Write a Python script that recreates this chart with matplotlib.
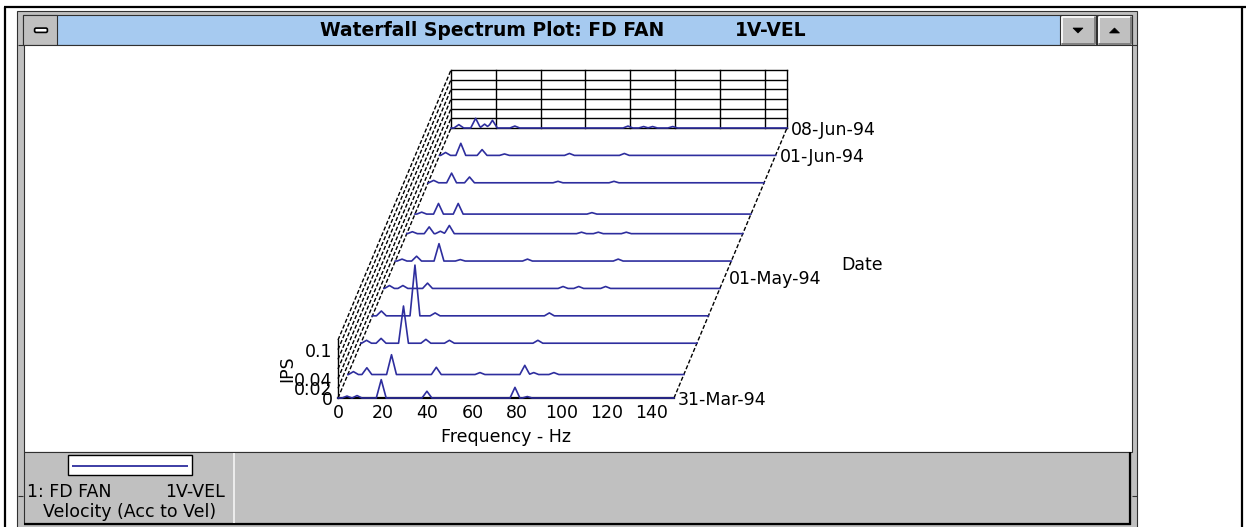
import matplotlib
matplotlib.use("Agg")
import numpy as np
import matplotlib.pyplot as plt
from matplotlib.patches import Rectangle, Polygon, FancyBboxPatch

# =====================================================
# Data
# =====================================================

DATES = ["31-Mar-94", "06-Apr-94", "14-Apr-94", "21-Apr-94", "28-Apr-94",
         "05-May-94", "12-May-94", "17-May-94", "25-May-94", "01-Jun-94",
         "08-Jun-94"]
DAYS = [0, 6, 14, 21, 28, 35, 42, 47, 55, 62, 69]

# peak frequencies (Hz) and amplitudes (IPS) of each spectrum, front to back
PEAK_FREQS = [
    [4, 8.5, 19.3, 39.7, 79, 84.5],
    [2.5, 8.5, 19.5, 39.5, 59, 79, 83, 92],
    [2.5, 9, 19, 29, 39.5, 79],
    [4, 19, 28, 79],
    [2.5, 8.5, 19.5, 80, 87, 99],
    [3, 9.5, 19.5, 29, 59, 99.5],
    [2.5, 10, 15, 19, 78, 85.5, 98],
    [3, 10.5, 19.3, 79],
    [2.5, 10.5, 18.5, 58, 83],
    [2.7, 9.5, 19, 29, 58, 82.5],
    [3.5, 11, 15, 18.5, 28.5, 79, 86, 90, 99],
]
PEAK_AMPS = [
    [0.004, 0.005, 0.038, 0.014, 0.022, 0.003],
    [0.006, 0.014, 0.041, 0.015, 0.004, 0.019, 0.004, 0.004],
    [0.006, 0.010, 0.077, 0.008, 0.006, 0.006],
    [0.010, 0.105, 0.006, 0.006],
    [0.006, 0.006, 0.011, 0.004, 0.004, 0.004],
    [0.004, 0.010, 0.036, 0.003, 0.004, 0.004],
    [0.004, 0.014, 0.005, 0.017, 0.003, 0.003, 0.003],
    [0.004, 0.022, 0.022, 0.003],
    [0.005, 0.020, 0.012, 0.003, 0.003],
    [0.006, 0.025, 0.012, 0.003, 0.004, 0.004],
    [0.007, 0.020, 0.008, 0.016, 0.004, 0.004, 0.003, 0.003, 0.003],
]

DATE_TICK_LABELS = ["31-Mar-94", "01-May-94", "01-Jun-94", "08-Jun-94"]
DATE_TICK_DAYS = [0, 31, 62, 69]

FREQ_TICKS = [0, 20, 40, 60, 80, 100, 120, 140]
IPS_TICKS = [0, 0.02, 0.04, 0.1]
IPS_TICK_LABELS = ["0", "0.02", "0.04", "0.1"]
IPS_GRID = [0, 0.02, 0.04, 0.06, 0.08, 0.10, 0.12]

F_MAX = 150
IPS_MAX = 0.12
DAY_SPAN = 69

# =====================================================
# Style / geometry (pixels)
# =====================================================

W, H, DPI = 1246, 527, 100
TRACE_BLUE = "#2E2E9E"
TITLE_BLUE = "#A6CAF0"
GRAY = "#C0C0C0"
DARK = "#303030"
PEAK_HALF_WIDTH = 2.2

FRONT_X0, FRONT_Y0 = 338, 398     # freq 0 / IPS 0 on the front plane
FRONT_W, FRONT_H = 336, 58        # 0..150 Hz, 0..0.12 IPS
DEPTH_DX, DEPTH_DY = 113, 270     # shift from first to last date

plt.rcParams["font.family"] = ["DejaVu Sans"]
plt.rcParams["font.size"] = 12.5

fig = plt.figure(figsize=(W / DPI, H / DPI), dpi=DPI)
fig.patch.set_facecolor("white")

# chrome axes in pixel coordinates, y going down
cax = fig.add_axes([0, 0, 1, 1])
cax.set_xlim(0, W)
cax.set_ylim(H, 0)
cax.axis("off")


def rect(x0, y0, x1, y1, fc, ec=DARK, lw=1.0, z=1):
    cax.add_patch(Rectangle((x0, y0), x1 - x0, y1 - y0, facecolor=fc,
                            edgecolor=ec, linewidth=lw, zorder=z))


def hline(x0, x1, y, color, lw=1.0, z=3):
    cax.plot([x0, x1], [y, y], color=color, lw=lw, zorder=z,
             solid_capstyle="butt")


def vline(x, y0, y1, color, lw=1.0, z=3):
    cax.plot([x, x], [y0, y1], color=color, lw=lw, zorder=z,
             solid_capstyle="butt")


# =====================================================
# Window chrome
# =====================================================

# page border
hline(4, W, 7, "black", lw=1.6)
vline(5, 7, H, "black", lw=1.6)
vline(1242, 7, H, "black", lw=1.6)

# window frame
rect(17, 11, 1137, H + 5, GRAY, ec=DARK, lw=0.8)
for y in (45, 496):
    hline(17.5, 23, y, DARK, lw=0.8)
    hline(1132, 1136.5, y, DARK, lw=0.8)

# title bar
rect(23, 15, 1132, 45, TITLE_BLUE, ec=DARK, lw=0.8, z=2)
rect(23, 15, 57, 45, GRAY, ec=DARK, lw=0.8, z=2)
cax.add_patch(FancyBboxPatch((35, 28.5), 12, 3.5,
                             boxstyle="round,pad=0.4,rounding_size=1.5",
                             facecolor="white", edgecolor="black", lw=1.2, zorder=4))

for x0, x1, up in ((1060, 1096, False), (1097, 1132, True)):
    rect(x0, 15, x1, 45, GRAY, ec=DARK, lw=0.8, z=2)
    hline(x0 + 1.5, x1 - 2, 17, "white", lw=1.2)
    vline(x0 + 1.5, 17, 43, "white", lw=1.2)
    hline(x0 + 1.5, x1 - 1, 43.5, "#808080", lw=1.4)
    vline(x1 - 1.5, 17, 44, "#808080", lw=1.4)
    cx = (x0 + x1) / 2
    if up:
        tri = [(cx - 5, 33), (cx + 5, 33), (cx, 28)]
    else:
        tri = [(cx - 5, 28), (cx + 5, 28), (cx, 33)]
    cax.add_patch(Polygon(tri, closed=True, facecolor="black",
                          edgecolor="black", lw=0.5, zorder=4))

fig.text(492 / W, 1 - 31 / H, "Waterfall Spectrum Plot: FD FAN",
         ha="center", va="center", fontsize=13.5, fontweight="bold")
fig.text(771 / W, 1 - 31 / H, "1V-VEL",
         ha="center", va="center", fontsize=13.5, fontweight="bold")

# client area
rect(24, 45, 1132, 452, "white", ec=DARK, lw=0.8, z=2)

# legend panel
rect(24, 452, 1130, 524, GRAY, ec=DARK, lw=0.8, z=2)
hline(24, 1131, 524, "black", lw=1.6)
vline(1130, 452, 525, "black", lw=1.6)
vline(234, 453, 523, "#EEEEEE", lw=1.4)
rect(68, 455, 192, 475, "white", ec="black", lw=1.0, z=3)
hline(72, 188, 466, TRACE_BLUE, lw=1.3, z=4)

fig.text(27 / W, 1 - 492 / H, "1: FD FAN", ha="left", va="center")
fig.text(225 / W, 1 - 492 / H, "1V-VEL", ha="right", va="center")
fig.text(130 / W, 1 - 512 / H, "Velocity (Acc to Vel)", ha="center", va="center")

# =====================================================
# Waterfall
# =====================================================

wax = fig.add_axes([FRONT_X0 / W, (H - FRONT_Y0) / H, FRONT_W / W, FRONT_H / H])
wax.set_xlim(0, F_MAX)
wax.set_ylim(0, IPS_MAX)
wax.patch.set_visible(False)
for side in ("top", "right"):
    wax.spines[side].set_visible(False)
wax.spines["bottom"].set_linewidth(1.6)
wax.spines["left"].set_linewidth(1.0)
wax.spines["bottom"].set_zorder(2)

# depth shift expressed in data units per day
KF = DEPTH_DX / DAY_SPAN / (FRONT_W / F_MAX)
KZ = DEPTH_DY / DAY_SPAN / (FRONT_H / IPS_MAX)


def proj(f, z, day):
    return np.asarray(f) + day * KF, np.asarray(z) + day * KZ


def trace_shape(freqs, amps):
    fs = np.asarray(freqs, dtype=float)
    az = np.asarray(amps, dtype=float)
    knots = np.concatenate([[0, F_MAX], fs - PEAK_HALF_WIDTH, fs, fs + PEAK_HALF_WIDTH])
    knots = np.unique(np.clip(knots, 0, F_MAX))
    tri = np.clip(1 - np.abs(knots[:, None] - fs[None, :]) / PEAK_HALF_WIDTH, 0, None)
    return knots, (tri * az[None, :]).max(axis=1)


last = DAY_SPAN

# back wall grid
for z in IPS_GRID:
    xs, ys = proj([0, F_MAX], [z, z], last)
    wax.plot(xs, ys, color="black", lw=1.0, clip_on=False, zorder=1)
for f in FREQ_TICKS + [F_MAX]:
    xs, ys = proj([f, f], [0, IPS_MAX], last)
    wax.plot(xs, ys, color="black", lw=1.0, clip_on=False, zorder=1)

# left wall, dashed
for z in IPS_GRID:
    xs = [proj(0, z, 0)[0], proj(0, z, last)[0]]
    ys = [proj(0, z, 0)[1], proj(0, z, last)[1]]
    wax.plot(xs, ys, color="black", lw=1.0, ls=(0, (3, 1.5)),
             clip_on=False, zorder=1)

# right edge of the date axis
xs = [proj(F_MAX, 0, 0)[0], proj(F_MAX, 0, last)[0]]
ys = [proj(F_MAX, 0, 0)[1], proj(F_MAX, 0, last)[1]]
wax.plot(xs, ys, color="black", lw=1.0, ls=(0, (3, 1.5)), clip_on=False, zorder=1)

# spectra
for day, fs, amps in zip(DAYS, PEAK_FREQS, PEAK_AMPS):
    f, a = trace_shape(fs, amps)
    xs, ys = proj(f, a, day)
    wax.plot(xs, ys, color=TRACE_BLUE, lw=1.2, clip_on=False, zorder=3)

# date labels
for label, day in zip(DATE_TICK_LABELS, DATE_TICK_DAYS):
    x, y = proj(F_MAX, 0, day)
    wax.annotate(label, (x, y), xytext=(3, -1.5), textcoords="offset points",
                 ha="left", va="center", annotation_clip=False)

fig.text(862 / W, 1 - 265 / H, "Date", ha="center", va="center")

# axes ticks and labels
wax.set_xticks(FREQ_TICKS)
wax.set_xticklabels([str(t) for t in FREQ_TICKS])
wax.set_yticks(IPS_TICKS)
wax.set_yticklabels(IPS_TICK_LABELS)
wax.tick_params(axis="x", length=0, pad=4.5)
wax.tick_params(axis="y", length=0, pad=4)
wax.set_xlabel("Frequency - Hz")
wax.set_ylabel("IPS")
wax.xaxis.set_label_coords(0.5, (FRONT_Y0 - 428) / FRONT_H)
wax.yaxis.set_label_coords((296 - FRONT_X0) / FRONT_W, 0.5)

fig.savefig("out.png", dpi=DPI)
